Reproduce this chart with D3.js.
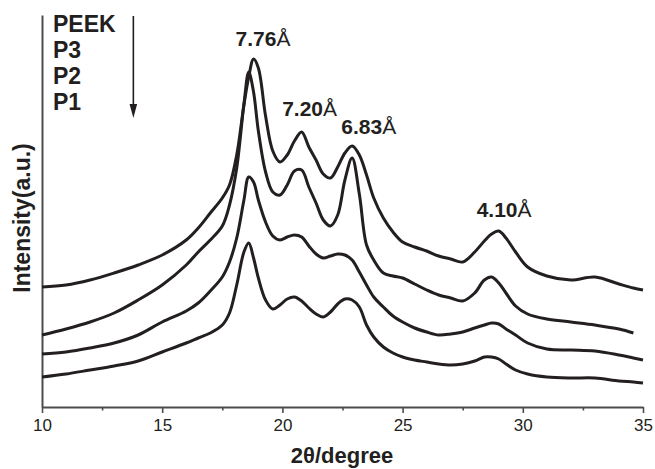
<!DOCTYPE html>
<html>
<head>
<meta charset="utf-8">
<script src="https://cdn.jsdelivr.net/npm/d3@7"></script>
<style>
    body { margin: 0; background: #fff; }
    svg { display: block; font-family: "Liberation Sans", Arial, sans-serif; }
</style>
</head>
<body>
<div id="chart-container"></div>
<script>
const twoTheta = [10, 11, 12, 13, 14, 15, 16, 16.5, 17, 17.5,
    17.8, 18.1, 18.4, 18.6, 18.8, 19.0, 19.3, 19.6, 19.9, 20.2,
    20.5, 20.8, 21.1, 21.4, 21.7, 22.0, 22.3, 22.6, 22.9, 23.2,
    23.5, 23.8, 24.2, 24.6, 25, 25.5, 26, 26.5, 27, 27.5,
    28, 28.4, 28.7, 29.0, 29.3, 29.7, 30.2, 31, 32, 33,
    34, 34.6, 35];

const peek = [120, 122, 127, 134, 142, 152, 167, 179, 194, 209,
    222, 252, 302, 330, 348, 339, 291, 256, 245, 252,
    266, 275, 260, 247, 233, 229, 240, 254, 261, 252,
    232, 209, 189, 175, 165, 160, 156, 151, 148, 145,
    155, 166, 173, 176, 169, 155, 140, 131, 127, 130,
    123, 119, 117];

const p3 = [72, 78, 85, 94, 107, 122, 142, 155, 167, 181,
    202, 239, 303, 335, 315, 276, 235, 215, 212, 222,
    236, 237, 220, 204, 187, 181, 192, 227, 249, 213,
    162, 147, 134, 131, 129, 123, 117, 112, 109, 106,
    114, 127, 130, 124, 114, 101, 93, 88, 85, 82,
    78, 74, null];

const p2 = [53, 55, 59, 64, 72, 85, 96, 104, 116, 130,
    145, 169, 207, 230, 225, 207, 185, 171, 167, 170,
    172, 170, 161, 153, 149, 151, 153, 152, 147, 135,
    122, 110, 100, 91, 85, 79, 75, 72, 73, 75,
    79, 82, 84, 83, 78, 72, 64, 58, 57, 56,
    52, 49, 47];

const p1 = [30, 33, 37, 41, 46, 55, 64, 69, 74, 82,
    94, 122, 155, 164, 149, 129, 107, 98, 102, 108,
    110, 106, 99, 93, 90, 95, 103, 108, 107, 100,
    82, 70, 60, 54, 50, 47, 45, 43, 42, 43,
    46, 50, 50, 48, 43, 37, 33, 30, 29, 29,
    26, 25, 24];

const sampleNames = ['PEEK', 'P3', 'P2', 'P1'];
const xTicks = [10, 15, 20, 25, 30, 35];
const xMinorTicks = [12.5, 17.5, 22.5, 27.5, 32.5];
const peakLabels = [
    { num: '7.76', theta: 18.05, level: 361 },
    { num: '7.20', theta: 19.99, level: 291 },
    { num: '6.83', theta: 22.45, level: 273 },
    { num: '4.10', theta: 28.08, level: 190 }
];

window.addEventListener('load', function() {
    createChart([peek, p3, p2, p1]);
});

function createChart(series) {
    const svgWidth = 655;
    const svgHeight = 469;
    const margin = { top: 15, right: 12, bottom: 62, left: 42 };
    const lineColor = '#231f20';

    const svg = d3.select('#chart-container')
    .append('svg')
    .attr('width', svgWidth)
    .attr('height', svgHeight);

    const xScale = d3.scaleLinear()
    .domain([10, 35])
    .range([margin.left, svgWidth - margin.right]);

    const yScale = d3.scaleLinear()
    .domain([0, 392])
    .range([svgHeight - margin.bottom, margin.top]);

    // bottom axis, major ticks with labels then minor ticks
    const xAxis = d3.axisBottom(xScale)
    .tickValues(xTicks)
    .tickSize(6)
    .tickSizeOuter(0)
    .tickPadding(6);

    const gx = svg.append('g')
    .attr('transform', `translate(0, ${svgHeight - margin.bottom})`)
    .call(xAxis)
    .attr('id', 'x-axis');
    gx.select('.domain').attr('stroke', '#4d4d4d').attr('stroke-width', 2);
    gx.selectAll('.tick line').attr('stroke', '#4d4d4d').attr('stroke-width', 1.6);
    gx.selectAll('.tick text')
    .attr('fill', '#231f20')
    .style('font-size', '17px')
    .style('font-family', '"Liberation Sans", Arial, sans-serif');

    const gxMinor = svg.append('g')
    .attr('transform', `translate(0, ${svgHeight - margin.bottom})`)
    .call(d3.axisBottom(xScale).tickValues(xMinorTicks).tickSize(3.5).tickFormat(''));
    gxMinor.select('.domain').remove();
    gxMinor.selectAll('.tick line').attr('stroke', '#4d4d4d').attr('stroke-width', 1.6);

    const yAxis = d3.axisLeft(yScale).tickValues([]).tickSizeOuter(0);
    const gy = svg.append('g')
    .attr('transform', `translate(${margin.left}, 0)`)
    .call(yAxis)
    .attr('id', 'y-axis');
    gy.select('.domain').attr('stroke', '#4d4d4d').attr('stroke-width', 2);

    // curves
    const line = d3.line()
    .defined(d => d[1] !== null)
    .x(d => xScale(d[0]))
    .y(d => yScale(d[1]))
    .curve(d3.curveCatmullRom.alpha(0.5));

    svg.selectAll('path.curve')
    .data(series)
    .enter()
    .append('path')
    .attr('class', 'curve')
    .attr('d', d => line(d.map((v, i) => [twoTheta[i], v])))
    .attr('fill', 'none')
    .attr('stroke', lineColor)
    .attr('stroke-width', 3)
    .attr('stroke-linejoin', 'round');

    // peak d-spacing labels
    const labels = svg.selectAll('text.peak')
    .data(peakLabels)
    .enter()
    .append('text')
    .attr('class', 'peak')
    .attr('x', d => xScale(d.theta))
    .attr('y', d => yScale(d.level))
    .attr('fill', lineColor)
    .style('font-size', '21px');
    labels.append('tspan').style('font-weight', 'bold').text(d => d.num);
    labels.append('tspan').text('Å');

    // sample names and arrow
    svg.selectAll('text.sample')
    .data(sampleNames)
    .enter()
    .append('text')
    .attr('class', 'sample')
    .attr('x', 53)
    .attr('y', (d, i) => 32 + i * 26)
    .attr('fill', lineColor)
    .style('font-size', '23px')
    .style('font-weight', 'bold')
    .text(d => d);

    const arrowX = xScale(13.8);
    svg.append('line')
    .attr('x1', arrowX)
    .attr('x2', arrowX)
    .attr('y1', 16)
    .attr('y2', 108)
    .attr('stroke', lineColor)
    .attr('stroke-width', 1.6);
    svg.append('path')
    .attr('d', `M${arrowX - 3.8},104 L${arrowX + 3.8},104 L${arrowX},118 Z`)
    .attr('fill', lineColor);

    // axis titles
    svg.append('text')
    .attr('transform', `translate(30, 218) rotate(-90)`)
    .attr('text-anchor', 'middle')
    .attr('fill', lineColor)
    .style('font-size', '23px')
    .style('font-weight', 'bold')
    .text('Intensity(a.u.)');

    svg.append('text')
    .attr('x', 342)
    .attr('y', 463)
    .attr('text-anchor', 'middle')
    .attr('fill', lineColor)
    .style('font-size', '22px')
    .style('font-weight', 'bold')
    .text('2θ/degree');
}
</script>
</body>
</html>
